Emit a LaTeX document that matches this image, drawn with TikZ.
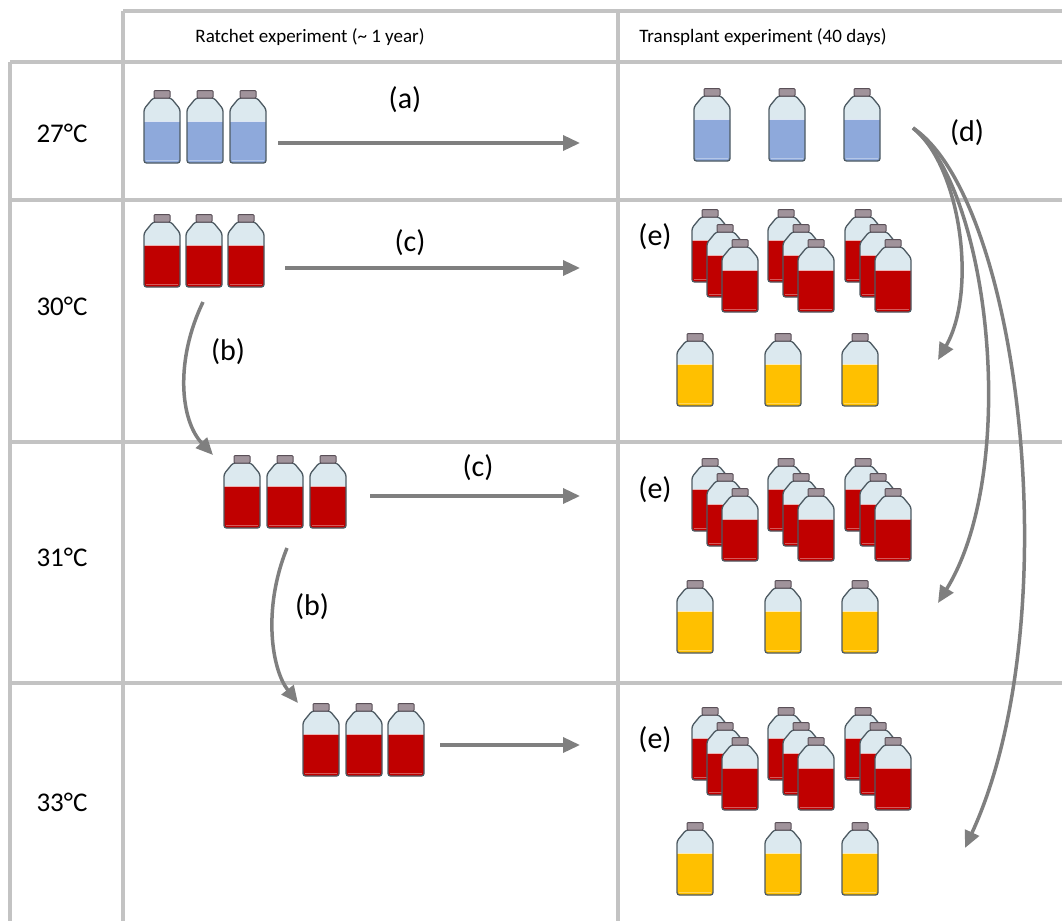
\documentclass[tikz,border=0pt]{standalone}
\usepackage{fontspec}
\setmainfont{Carlito}
\usetikzlibrary{arrows.meta}
\definecolor{gridgray}{HTML}{C3C3C3}
\definecolor{arrowgray}{HTML}{7F7F7F}
\definecolor{glass}{HTML}{DCE9EF}
\definecolor{flaskline}{HTML}{4D5A62}
\definecolor{capfill}{HTML}{A0939B}
\definecolor{capline}{HTML}{5A5058}
\definecolor{liqblue}{HTML}{8EA9DB}
\definecolor{liqred}{HTML}{C00000}
\definecolor{liqyellow}{HTML}{FFC000}
\tikzset{
  grid/.style={draw=gridgray, line width=4pt},
  flow/.style={draw=arrowgray, line width=3.5pt, -{Triangle[length=17pt,width=15pt]}},
  rowlabel/.style={font=\fontsize{27}{30}\selectfont, inner sep=0pt},
  headlabel/.style={font=\fontsize{19}{22}\selectfont, inner sep=0pt},
  steplabel/.style={font=\fontsize{30}{34}\selectfont, inner sep=0pt},
  % a culture flask, origin at the top centre of its cap
  pics/flask/.style={code={
    \fill[glass, rounded corners=2.5pt] (-9,8) -- (-18,19) -- (-18,73) -- (18,73) -- (18,19) -- (9,8) -- cycle;
    \begin{scope}
      \clip[rounded corners=2.5pt] (-9,8) -- (-18,19) -- (-18,73) -- (18,73) -- (18,19) -- (9,8) -- cycle;
      \fill[#1] (-20,31) rectangle (20,75);
      \draw[white, opacity=.7, line width=1.2pt] (-18,31.5) -- (18,31.5);
      \draw[white, opacity=.35, line width=1pt] (-16,70) -- (16,70);
    \end{scope}
    \draw[flaskline, line width=1.3pt, rounded corners=2.5pt] (-9,8) -- (-18,19) -- (-18,73) -- (18,73) -- (18,19) -- (9,8) -- cycle;
    \draw[capline, fill=capfill, line width=1pt, rounded corners=1pt] (-8,0.5) rectangle (8,8);
  }},
  % three flasks standing one behind the other
  pics/stack/.style={code={
    \pic at (0,0) {flask=#1};
    \pic at (15,15) {flask=#1};
    \pic at (30,30) {flask=#1};
  }}
}
\begin{document}
\begin{tikzpicture}[x=1pt, y=-1pt]
\useasboundingbox (0,0) rectangle (1062,921);

% table rules
\draw[grid] (123,11) -- (1062,11);
\draw[grid] (10,62) -- (1062,62);
\draw[grid] (10,200) -- (1062,200);
\draw[grid] (10,442) -- (1062,442);
\draw[grid] (10,683) -- (1062,683);
\draw[grid] (10,62) -- (10,921);
\draw[grid] (123,11) -- (123,921);
\draw[grid] (618,11) -- (618,921);

% headings
\node[headlabel] (hr) at (310,37) {Ratchet experiment (\textasciitilde\ 1 year)};
\node[headlabel] (ht) at (763,37) {Transplant experiment (40 days)};
\node[rowlabel] (t27) at (62,133) {27°C};
\node[rowlabel] (t30) at (62,306) {30°C};
\node[rowlabel] (t31) at (62,557) {31°C};
\node[rowlabel] (t33) at (62,802) {33°C};

% ratchet flasks
\foreach \x in {162,205,248} \pic at (\x,90) {flask=liqblue};
\foreach \x in {162,204,246} \pic at (\x,214) {flask=liqred};
\foreach \x in {242,285,328} \pic at (\x,455) {flask=liqred};
\foreach \x in {321,364,406} \pic at (\x,703) {flask=liqred};

% transplant flasks
\foreach \x in {712,787,862} \pic at (\x,88) {flask=liqblue};
\foreach \y/\q in {209/333, 458/580, 707/822} {
  \foreach \x in {710,786,863} \pic at (\x,\y) {stack=liqred};
  \foreach \x in {695,783,860} \pic at (\x,\q) {flask=liqyellow};
}

% arrow end points
\coordinate (a0) at (278,143);  \coordinate (a1) at (580,143);
\coordinate (c0) at (285,268);  \coordinate (c1) at (580,268);
\coordinate (e0) at (370,496);  \coordinate (e1) at (580,496);
\coordinate (f0) at (440,745);  \coordinate (f1) at (580,745);
\coordinate (b0) at (203,302);  \coordinate (b1) at (213,455);
\coordinate (g0) at (287,548);  \coordinate (g1) at (298,703);
\coordinate (d0) at (913,128);
\coordinate (d1) at (938,360);
\coordinate (d2) at (938,603);
\coordinate (d3) at (965,848);

\draw[flow] (a0) -- (a1);
\draw[flow] (c0) -- (c1);
\draw[flow] (e0) -- (e1);
\draw[flow] (f0) -- (f1);
\draw[flow] (b0) .. controls (175,360) and (180,420) .. (b1);
\draw[flow] (g0) .. controls (262,610) and (272,670) .. (g1);
\draw[flow] (d0) .. controls (960,165) and (978,290) .. (d1);
\draw[flow] (d0) .. controls (990,190) and (1020,470) .. (d2);
\draw[flow] (d0) .. controls (1020,200) and (1070,620) .. (d3);

% step labels
\node[steplabel] (la) at (405,100) {(a)};
\node[steplabel] (lc1) at (410,243) {(c)};
\node[steplabel] (lb1) at (228,352) {(b)};
\node[steplabel] (lc2) at (478,468) {(c)};
\node[steplabel] (lb2) at (312,607) {(b)};
\node[steplabel] (ld) at (967,133) {(d)};
\node[steplabel] (le1) at (655,237) {(e)};
\node[steplabel] (le2) at (655,490) {(e)};
\node[steplabel] (le3) at (655,740) {(e)};
\end{tikzpicture}
\end{document}
